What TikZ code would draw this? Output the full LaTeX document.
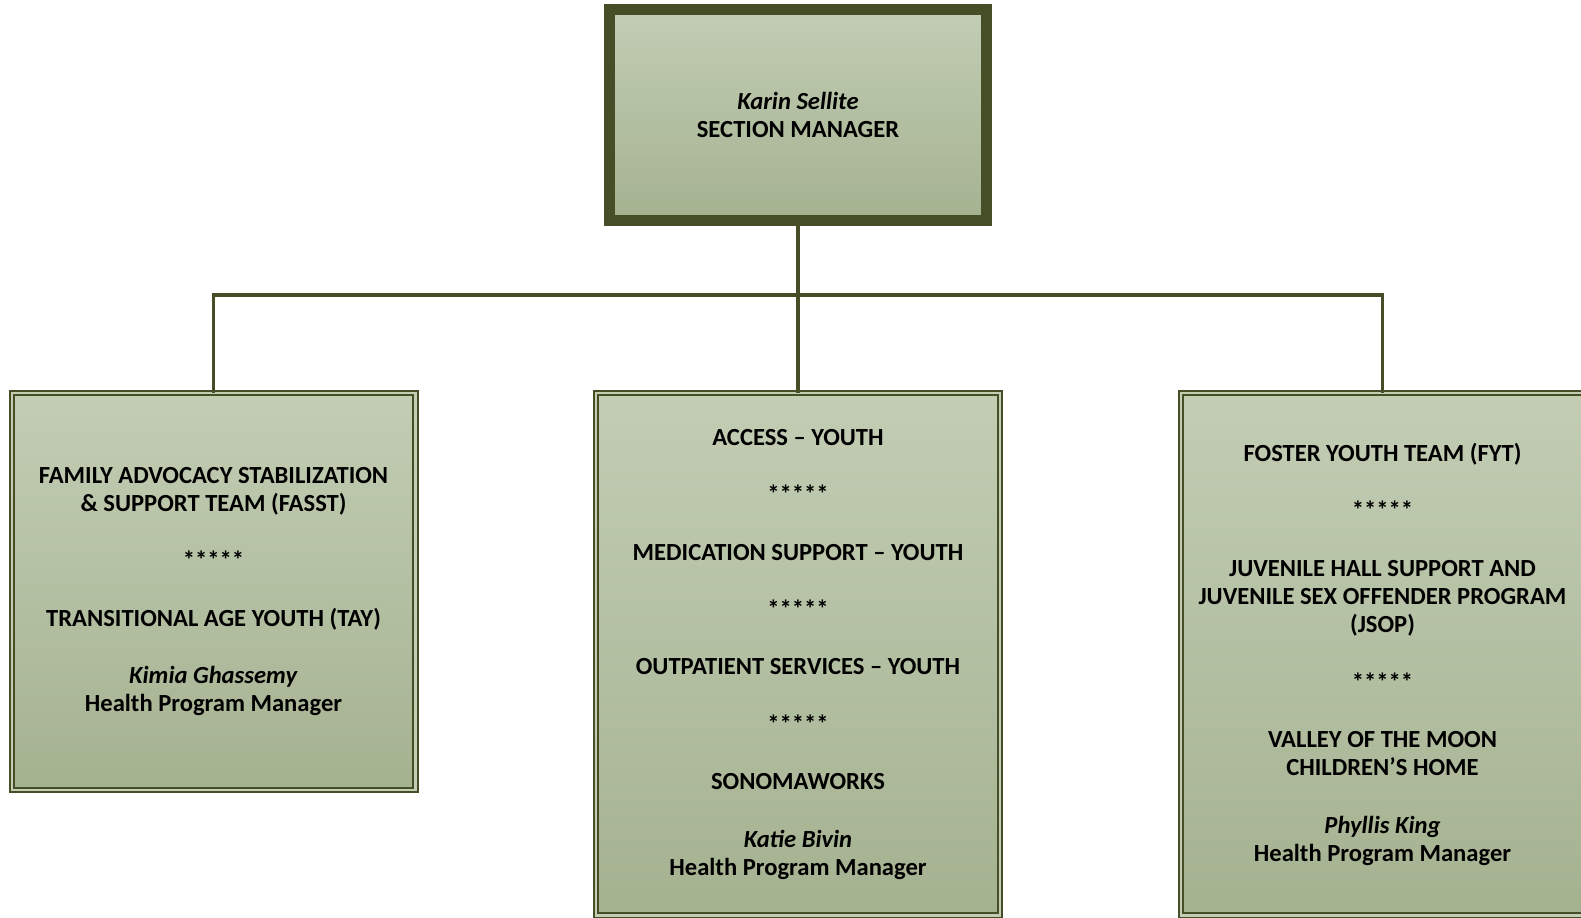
\documentclass[tikz,border=0pt]{standalone}
\usepackage{fontspec}
\setmainfont{Carlito}
\usepackage{tikz}
\definecolor{boxtop}{RGB}{194,205,180}
\definecolor{boxbottom}{RGB}{165,178,144}
\definecolor{boxline}{RGB}{70,78,40}
\begin{document}
\begin{tikzpicture}[x=0.5pt, y=0.5pt, every node/.style = {align=center, inner sep=0pt, outer sep=0pt,
    font=\bfseries\fontsize{12.3pt}{14.1pt}\selectfont},
    unitbox/.style = {draw=boxline, line width=1pt, double=boxtop, double distance=1.2pt,
    top color=boxtop, bottom color=boxbottom, minimum width=201.8pt, anchor=north},
    level distance=139.1pt, sibling distance=292.25pt,
    edge from parent/.style = {draw=boxline, line width=1.6pt},
    edge from parent path = {(\tikzchildnode.north) -- ++(0,98.2) -| (\tikzparentnode.south)}]
\useasboundingbox (0,0) rectangle (1581,-917);
					\node (manager) at (798,-115) [draw=boxline, line width=5.5pt, top color=boxtop, bottom color=boxbottom,
						minimum width=188.5pt, minimum height=105.5pt] {\textit{Karin Sellite}\\ SECTION MANAGER}
						child { node (fasst) [unitbox, minimum height=198.3pt] {FAMILY ADVOCACY STABILIZATION\\ \& SUPPORT TEAM (FASST)\\[14.6pt]
							*****\\[14.6pt] TRANSITIONAL AGE YOUTH (TAY)\\[14.6pt] \textit{Kimia Ghassemy}\\ Health Program Manager} }
						child { node (youth) [unitbox, minimum height=261.2pt] {ACCESS – YOUTH\\[14.6pt] *****\\[14.6pt]
							MEDICATION SUPPORT – YOUTH\\[14.6pt] *****\\[14.6pt] OUTPATIENT SERVICES – YOUTH\\[14.6pt] *****\\[14.6pt]
							SONOMAWORKS\\[14.6pt] \textit{Katie Bivin}\\ Health Program Manager} }
						child { node (foster) [unitbox, minimum height=261.2pt] {FOSTER YOUTH TEAM (FYT)\\[14.6pt] *****\\[14.6pt]
							JUVENILE HALL SUPPORT AND\\ JUVENILE SEX OFFENDER PROGRAM\\ (JSOP)\\[14.6pt] *****\\[14.6pt]
							VALLEY OF THE MOON\\ CHILDREN’S HOME\\[14.6pt] \textit{Phyllis King}\\ Health Program Manager} };
				\end{tikzpicture}
\end{document}
